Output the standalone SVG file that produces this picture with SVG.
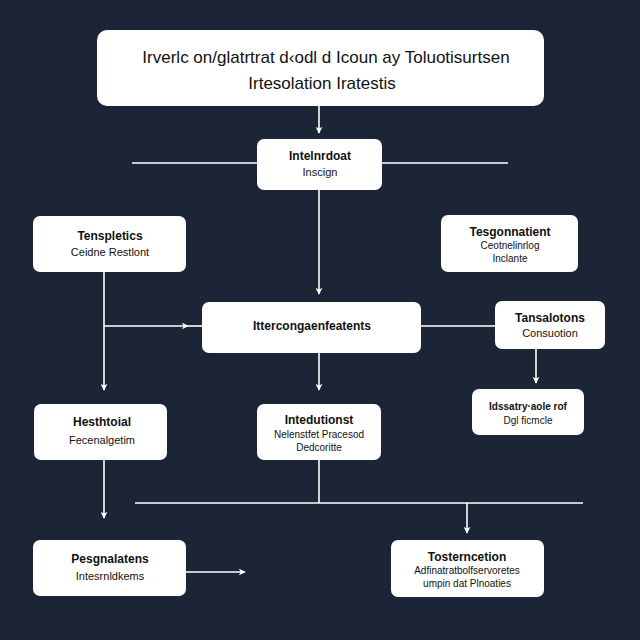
<svg xmlns="http://www.w3.org/2000/svg" width="640" height="640" viewBox="0 0 640 640">
<defs>
<marker id="ah" viewBox="0 0 10 10" refX="9" refY="5" markerWidth="7" markerHeight="7" orient="auto-start-reverse" markerUnits="userSpaceOnUse">
<path d="M0,0 L10,5 L0,10 L3,5 Z" fill="#ffffff"/>
</marker>
<style>
.bg{fill:#1c2535}
.box{fill:#ffffff;stroke:none}
.ln{stroke:#ffffff;stroke-width:1.6;fill:none}
.t{font-family:"Liberation Sans",Arial,sans-serif;fill:#111111;text-anchor:middle}
.big{font-size:17px}
.h{font-size:12px;font-weight:bold}
.s{font-size:11px}
.xs{font-size:10px}
</style>
</defs>
<rect class="bg" x="0" y="0" width="640" height="640"/>
<g id="connectors">
<line class="ln" x1="319" y1="106" x2="319" y2="133" marker-end="url(#ah)"/>
<line class="ln" x1="132" y1="163" x2="257" y2="163"/>
<line class="ln" x1="382" y1="163" x2="508" y2="163"/>
<line class="ln" x1="319" y1="190" x2="319" y2="294" marker-end="url(#ah)"/>
<line class="ln" x1="104" y1="272" x2="104" y2="390" marker-end="url(#ah)"/>
<line class="ln" x1="104" y1="326" x2="188" y2="326" marker-end="url(#ah)"/>
<line class="ln" x1="188" y1="326" x2="202" y2="326"/>
<line class="ln" x1="421" y1="326" x2="495" y2="326"/>
<line class="ln" x1="536" y1="349" x2="536" y2="383" marker-end="url(#ah)"/>
<line class="ln" x1="319" y1="353" x2="319" y2="390" marker-end="url(#ah)"/>
<line class="ln" x1="319" y1="460" x2="319" y2="503"/>
<line class="ln" x1="135" y1="503" x2="583" y2="503"/>
<line class="ln" x1="467" y1="503" x2="467" y2="533" marker-end="url(#ah)"/>
<line class="ln" x1="104" y1="460" x2="104" y2="518" marker-end="url(#ah)"/>
<line class="ln" x1="186" y1="572" x2="245" y2="572" marker-end="url(#ah)"/>
</g>
<g id="n-top">
<rect class="box" x="97" y="30" width="447" height="76" rx="10"/>
<text class="t big" x="326" y="63">Irverlc on/glatrtrat d‹odl d Icoun ay Toluotisurtsen</text>
<text class="t big" x="322" y="89">Irtesolation Iratestis</text>
</g>
<g id="n-intel">
<rect class="box" x="257" y="139" width="125" height="51" rx="7"/>
<text class="t h" x="320" y="160">Intelnrdoat</text>
<text class="t s" x="320" y="176">Inscign</text>
</g>
<g id="n-templ">
<rect class="box" x="33" y="216" width="153" height="56" rx="7"/>
<text class="t h" x="110" y="240">Tenspletics</text>
<text class="t s" x="110" y="256">Ceidne Restlont</text>
</g>
<g id="n-tesg">
<rect class="box" x="441" y="215" width="137" height="57" rx="7"/>
<text class="t h" x="510" y="236">Tesgonnatient</text>
<text class="t xs" x="510" y="249">Ceotnelinrlog</text>
<text class="t xs" x="510" y="262">Inclante</text>
</g>
<g id="n-mid">
<rect class="box" x="202" y="302" width="219" height="51" rx="7"/>
<text class="t h" x="312" y="330">Ittercongaenfeatents</text>
</g>
<g id="n-tans">
<rect class="box" x="495" y="301" width="110" height="48" rx="7"/>
<text class="t h" x="550" y="322">Tansalotons</text>
<text class="t s" x="550" y="337">Consuotion</text>
</g>
<g id="n-idss">
<rect class="box" x="472" y="389" width="112" height="46" rx="7"/>
<text class="t xs" x="528" y="410" font-weight="bold">Idssatry·aole rof</text>
<text class="t xs" x="528" y="424">Dgl ficmcle</text>
</g>
<g id="n-hest">
<rect class="box" x="34" y="404" width="133" height="56" rx="7"/>
<text class="t h" x="102" y="426">Hesthtoial</text>
<text class="t s" x="102" y="444">Fecenalgetim</text>
</g>
<g id="n-inted">
<rect class="box" x="257" y="404" width="124" height="56" rx="7"/>
<text class="t h" x="319" y="424">Intedutionst</text>
<text class="t xs" x="319" y="438">Nelenstfet Pracesod</text>
<text class="t xs" x="319" y="451">Dedcoritte</text>
</g>
<g id="n-pesg">
<rect class="box" x="33" y="540" width="153" height="56" rx="7"/>
<text class="t h" x="110" y="563">Pesgnalatens</text>
<text class="t s" x="110" y="580">Intesrnldkems</text>
</g>
<g id="n-tost">
<rect class="box" x="391" y="540" width="153" height="57" rx="7"/>
<text class="t h" x="467" y="561">Tosterncetion</text>
<text class="t xs" x="467" y="574">Adfinatratbolfservoretes</text>
<text class="t xs" x="467" y="587">umpin dat Plnoaties</text>
</g>
</svg>
